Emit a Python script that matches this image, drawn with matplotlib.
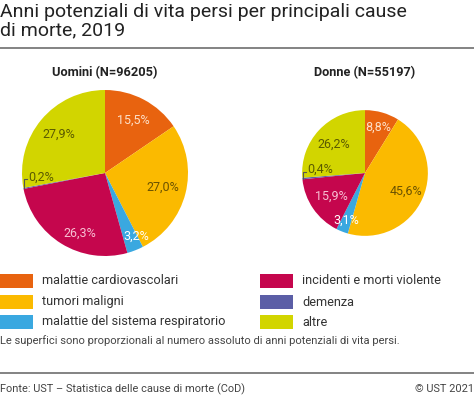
import numpy as np
import matplotlib
matplotlib.use("Agg")
import matplotlib.pyplot as plt
from matplotlib.lines import Line2D
from matplotlib.patches import Rectangle

plt.rcParams['font.family'] = ['Roboto', 'DejaVu Sans']

# data
categories = ["malattie cardiovascolari", "tumori maligni", "malattie del sistema respiratorio",
              "incidenti e morti violente", "demenza", "altre"]
uomini = [15.5, 27.0, 3.2, 26.3, 0.2, 27.9]
donne = [8.8, 45.6, 3.1, 15.9, 0.4, 26.2]
n_uomini = 96205
n_donne = 55197

colors = ["#e8630f", "#fbba00", "#3aa8e0", "#c5064d", "#5b5ea6", "#d2d500"]
label_colors = ["#fde0c8", "#6b5200", "#ffffff", "#f7c0d3", "#5a5a00", "#5a5a00"]

W, H = 474, 396
fig = plt.figure(figsize=(W / 100, H / 100), dpi=100)


def fx(x):
    return x / W


def fy(y):
    return 1 - y / H


# title
fig.text(fx(0), fy(3), "Anni potenziali di vita persi per principali cause\ndi morte, 2019",
         fontsize=14, va='top', ha='left', linespacing=1.05, color="#222222")
fig.add_artist(Line2D([0, 1], [fy(47.5), fy(47.5)], color="#7a7a7a", lw=1.3))

R = 83  # pixel radius of the larger pie


def draw_pie(cx, cy, values, n, title, dists, shifts, bracket_dy):
    ax = fig.add_axes([fx(cx - R), fy(cy + R), 2 * R / W, 2 * R / H])
    radius = np.sqrt(n / n_uomini)
    wedges, _ = ax.pie(values, colors=colors, startangle=90, counterclock=False,
                       radius=radius, wedgeprops=dict(linewidth=0))
    ax.set_xlim(-1, 1)
    ax.set_ylim(-1, 1)
    ax.set_aspect('equal')
    ax.axis('off')
    for i, w in enumerate(wedges):
        ang = np.deg2rad((w.theta1 + w.theta2) / 2 + shifts[i])
        txt = f"{values[i]:.1f}".replace(".", ",") + "%"
        if dists[i] is None:
            # small slice: bracket + label outside
            x0, y0 = radius * np.cos(ang), radius * np.sin(ang)
            dy = bracket_dy / R
            ax.plot([x0 + 1 / R, x0 + 1 / R, x0 + 4 / R], [y0, y0 + dy, y0 + dy],
                    color="#555555", lw=0.8, clip_on=False)
            ax.text(x0 + 5 / R, y0 + dy + 2 / R, txt, ha='left', va='center',
                    fontsize=9, color=label_colors[i])
        else:
            d = dists[i] * radius
            ax.text(d * np.cos(ang), d * np.sin(ang), txt, ha='center', va='center',
                    fontsize=9, color=label_colors[i])
    fig.text(fx(cx), fy(73), title, ha='center', va='center', fontsize=9.2,
             fontweight='bold', color="#222222")


draw_pie(105, 173, uomini, n_uomini, f"Uomini (N={n_uomini})",
         [0.72, 0.72, 0.85, 0.79, None, 0.72], [0, 0, 5, 9, 0, 0], 9)
draw_pie(365, 173, donne, n_donne, f"Donne (N={n_donne})",
         [0.75, 0.72, 0.8, 0.65, None, 0.67], [0, 0, 0, 0, 0, 0], 7)

# legend
rows = [281, 302, 322]
for i, cat in enumerate(categories):
    col = i // 3
    y = rows[i % 3]
    x0 = 0 if col == 0 else 260
    fig.add_artist(Rectangle((fx(x0), fy(y + 7)), 33 / W, 14 / H, color=colors[i], lw=0))
    fig.text(fx(x0 + 42), fy(y), cat, ha='left', va='center', fontsize=9.2,
             color="#333333")

fig.text(fx(0), fy(341), "Le superfici sono proporzionali al numero assoluto di anni potenziali di vita persi.",
         ha='left', va='center', fontsize=8, color="#444444")
fig.add_artist(Line2D([0, 1], [fy(373), fy(373)], color="#7a7a7a", lw=1.3))
fig.text(fx(0), fy(389), "Fonte: UST \u2013 Statistica delle cause di morte (CoD)",
         ha='left', va='center', fontsize=7.9, color="#444444")
fig.text(fx(474), fy(389), "\u00a9 UST 2021", ha='right', va='center', fontsize=7.9,
         color="#444444")

fig.savefig("out.png", dpi=100)
